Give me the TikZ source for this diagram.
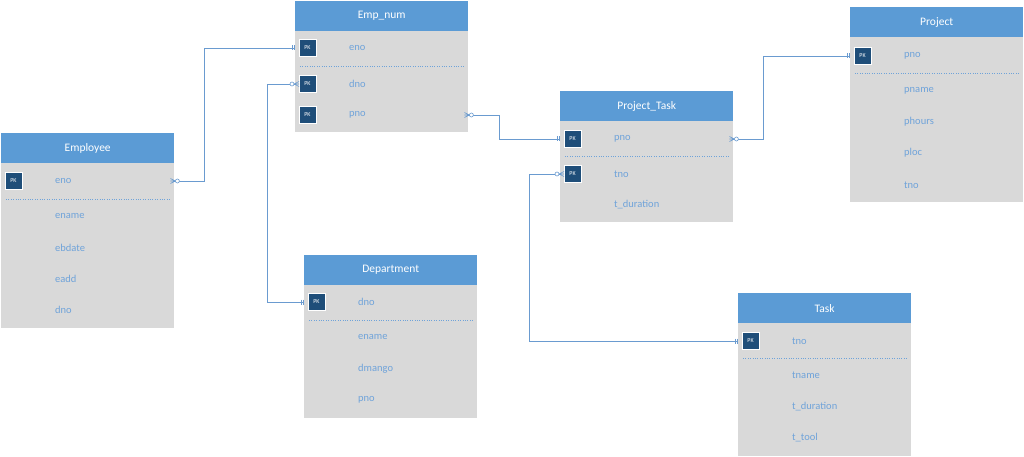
\documentclass[tikz,border=0pt]{standalone}
\usepackage{fontspec}
\setmainfont{Carlito}
\definecolor{hdr}{HTML}{5B9BD5}
\definecolor{bodyg}{HTML}{D9D9D9}
\definecolor{pkc}{HTML}{1F4E79}
\definecolor{attrc}{HTML}{6FA3D9}
\definecolor{linec}{HTML}{6A9BD0}
\tikzset{
 tbody/.style={fill=bodyg, draw=none, anchor=north west, minimum width=173pt, inner sep=0pt},
 thead/.style={fill=hdr, draw=none, anchor=north west, minimum width=173pt, minimum height=30pt, inner sep=0pt, text=white, font=\fontsize{11.5}{13}\selectfont},
 attr/.style={anchor=west, text=attrc, font=\fontsize{10.5}{12}\selectfont, inner sep=0pt},
 pkbox/.style={fill=pkc, draw=white, line width=0.8pt, minimum size=17pt, inner sep=0pt, text=white, font=\fontsize{6}{7}\selectfont},
 sepline/.style={draw=attrc, dotted, line width=0.4pt},
 conn/.style={draw=linec, line width=0.6pt},
 zeromany/.pic={\draw[conn] (-4,-2.5) -- (1,0) -- (-4,2.5) (-4,0) -- (1,0); \draw[conn,fill=white] (3,0) circle (2);},
 onlyone/.pic={\draw[conn] (1,-2.5)--(1,2.5) (3,-2.5)--(3,2.5);}
}
\newcommand\ertab[5]{%
 \node[tbody, minimum height=#4pt] (#1) at (#2,#3) {};
 \node[thead] (#1-h) at (#2,#3) {#5};}
\newcommand\erattr[4]{\node[attr] (#1-#2) at ([xshift=54pt,yshift=-#3pt]#1.north west) {#4};}
\newcommand\erpk[3]{\node[pkbox] (#1-pk#2) at ([xshift=12.5pt,yshift=-#3pt]#1.north west) {PK};}
\newcommand\ersep[2]{\draw[sepline] ([xshift=5pt,yshift=-#2pt]#1.north west) -- ([xshift=-5pt,yshift=-#2pt]#1.north east);}
\begin{document}
\begin{tikzpicture}[x=1pt,y=-1pt]
\useasboundingbox (0,0) rectangle (1024,457);
% Employee
\ertab{Emp}{1}{133}{195}{Employee}
\erpk{Emp}{eno}{48}
\erattr{Emp}{eno}{48}{eno}
\ersep{Emp}{66}
\erattr{Emp}{ename}{83}{ename}
\erattr{Emp}{ebdate}{115}{ebdate}
\erattr{Emp}{eadd}{146}{eadd}
\erattr{Emp}{dno}{177}{dno}
% Emp_num
\ertab{EN}{295}{1}{131}{Emp\_num}
\erpk{EN}{eno}{47}
\erattr{EN}{eno}{47}{eno}
\ersep{EN}{65}
\erpk{EN}{dno}{83}
\erattr{EN}{dno}{83}{dno}
\erpk{EN}{pno}{114}
\erattr{EN}{pno}{114}{pno}
% Project_Task
\ertab{PT}{560}{91}{131}{Project\_Task}
\erpk{PT}{pno}{48}
\erattr{PT}{pno}{48}{pno}
\ersep{PT}{65}
\erpk{PT}{tno}{83}
\erattr{PT}{tno}{83}{tno}
\erattr{PT}{tdur}{114}{t\_duration}
% Project
\ertab{PR}{850}{7}{195}{Project}
\erpk{PR}{pno}{49}
\erattr{PR}{pno}{49}{pno}
\ersep{PR}{66}
\erattr{PR}{pname}{84}{pname}
\erattr{PR}{phours}{115}{phours}
\erattr{PR}{ploc}{146}{ploc}
\erattr{PR}{tno}{178}{tno}
% Department
\ertab{DE}{304}{255}{163}{Department}
\erpk{DE}{dno}{47}
\erattr{DE}{dno}{47}{dno}
\ersep{DE}{65}
\erattr{DE}{ename}{82}{ename}
\erattr{DE}{dmango}{114}{dmango}
\erattr{DE}{pno}{145}{pno}
% Task
\ertab{TA}{738}{293}{163}{Task}
\erpk{TA}{tno}{48}
\erattr{TA}{tno}{48}{tno}
\ersep{TA}{65}
\erattr{TA}{tname}{82}{tname}
\erattr{TA}{tdur}{114}{t\_duration}
\erattr{TA}{ttool}{145}{t\_tool}
% connectors
\draw[conn] (Emp.east |- Emp-eno) -- ++(30,0) |- (EN.west |- EN-eno);
\draw[conn] (EN.west |- EN-dno) -- ++(-28,0) |- (DE.west |- DE-dno);
\draw[conn] (EN.east |- EN-pno) -- ++(31,0) |- (PT.west |- PT-pno);
\draw[conn] (PT.east |- PT-pno) -- ++(30,0) |- (PR.west |- PR-pno);
\draw[conn] (PT.west |- PT-tno) -- ++(-31,0) |- (TA.west |- TA-tno);
% markers
\pic at (Emp.east |- Emp-eno) {zeromany};
\pic[xscale=-1] at (EN.west |- EN-eno) {onlyone};
\pic[xscale=-1] at (EN.west |- EN-dno) {zeromany};
\pic[xscale=-1] at (DE.west |- DE-dno) {onlyone};
\pic at (EN.east |- EN-pno) {zeromany};
\pic[xscale=-1] at (PT.west |- PT-pno) {onlyone};
\pic at (PT.east |- PT-pno) {zeromany};
\pic[xscale=-1] at (PR.west |- PR-pno) {onlyone};
\pic[xscale=-1] at (PT.west |- PT-tno) {zeromany};
\pic[xscale=-1] at (TA.west |- TA-tno) {onlyone};
\end{tikzpicture}
\end{document}
